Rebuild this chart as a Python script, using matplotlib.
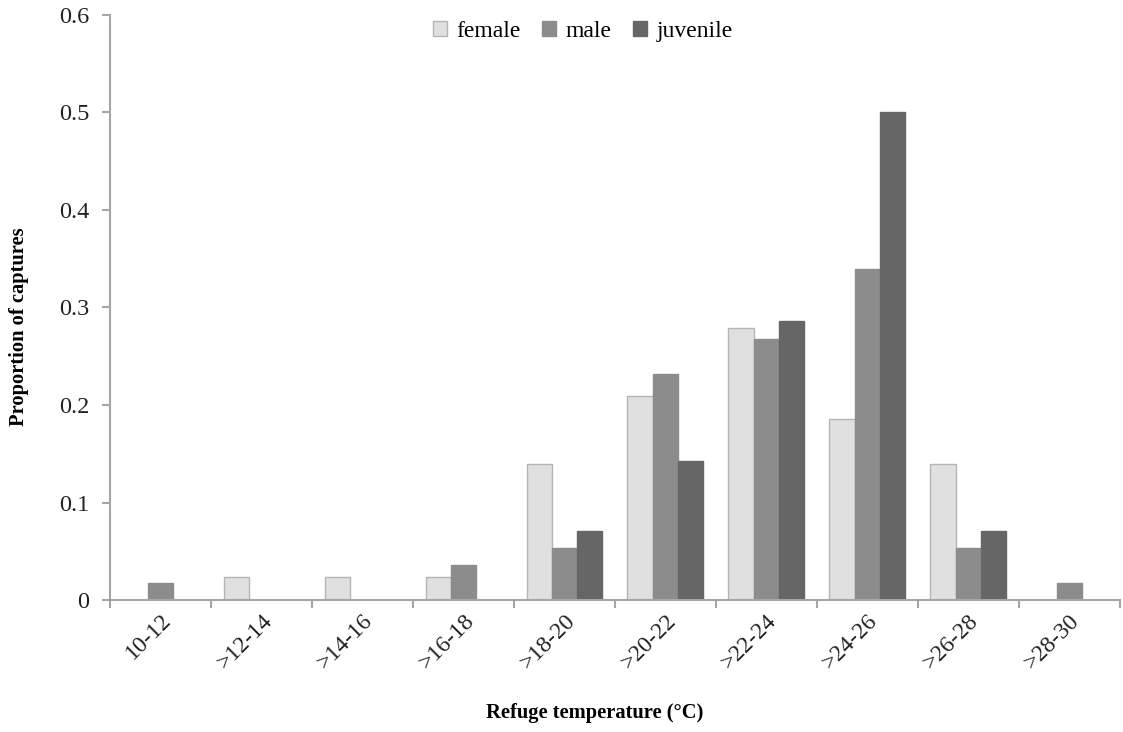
import matplotlib.pyplot as plt
import numpy as np

plt.rcParams['font.family'] = ['Liberation Serif', 'DejaVu Serif']

# data
categories = ['10-12', '>12-14', '>14-16', '>16-18', '>18-20',
              '>20-22', '>22-24', '>24-26', '>26-28', '>28-30']
female = [0, 0.024, 0.024, 0.024, 0.14, 0.209, 0.279, 0.186, 0.14, 0]
male = [0.018, 0, 0, 0.036, 0.054, 0.232, 0.268, 0.339, 0.054, 0.018]
juvenile = [0, 0, 0, 0, 0.071, 0.143, 0.286, 0.5, 0.071, 0]

fig = plt.figure(figsize=(11.23, 7.32), dpi=100)
ax = fig.add_axes([0.098, 0.180, 0.899, 0.800])

x = np.arange(len(categories))
w = 0.25
axis_col = '#a6a6a6'

ax.bar(x - w, female, w, color='#e0e0e0', edgecolor='#b5b5b5', linewidth=1, label='female')
ax.bar(x, male, w, color='#8c8c8c', edgecolor='#8c8c8c', linewidth=1, label='male')
ax.bar(x + w, juvenile, w, color='#666666', edgecolor='#666666', linewidth=1, label='juvenile')

ax.set_xlim(-0.5, len(categories) - 0.5)
ax.set_ylim(0, 0.6)
ax.set_yticks(np.arange(0, 0.61, 0.1))
ax.set_yticklabels(['0', '0.1', '0.2', '0.3', '0.4', '0.5', '0.6'], fontsize=17.5, color='#222222')

# ticks at group boundaries, labels at group centers
ax.set_xticks(np.arange(-0.5, len(categories), 1.0))
ax.set_xticklabels([])
ax.set_xticks(x, minor=True)
ax.set_xticklabels(categories, minor=True, rotation=45, ha='right',
                   rotation_mode='anchor', fontsize=17, color='#222222')
ax.tick_params(axis='x', which='minor', length=0, pad=7)
ax.tick_params(axis='x', which='major', length=6, color=axis_col, width=1.5)
ax.tick_params(axis='y', length=6, color=axis_col, width=1.5, pad=9)

for s in ['top', 'right']:
    ax.spines[s].set_visible(False)
for s in ['left', 'bottom']:
    ax.spines[s].set_color(axis_col)
    ax.spines[s].set_linewidth(1.5)

ax.set_ylabel('Proportion of captures', fontsize=14.8, fontweight='bold')
ax.yaxis.set_label_coords(-0.080, 0.467)
ax.set_xlabel('Refuge temperature (°C)', fontsize=14.8, fontweight='bold')
ax.xaxis.set_label_coords(0.48, -0.175)

ax.legend(loc='center', bbox_to_anchor=(0.468, 0.971), ncol=3, frameon=False,
          fontsize=17, handlelength=0.6, handleheight=0.6, handletextpad=0.4,
          columnspacing=0.9)

fig.savefig('out.png', dpi=100)
